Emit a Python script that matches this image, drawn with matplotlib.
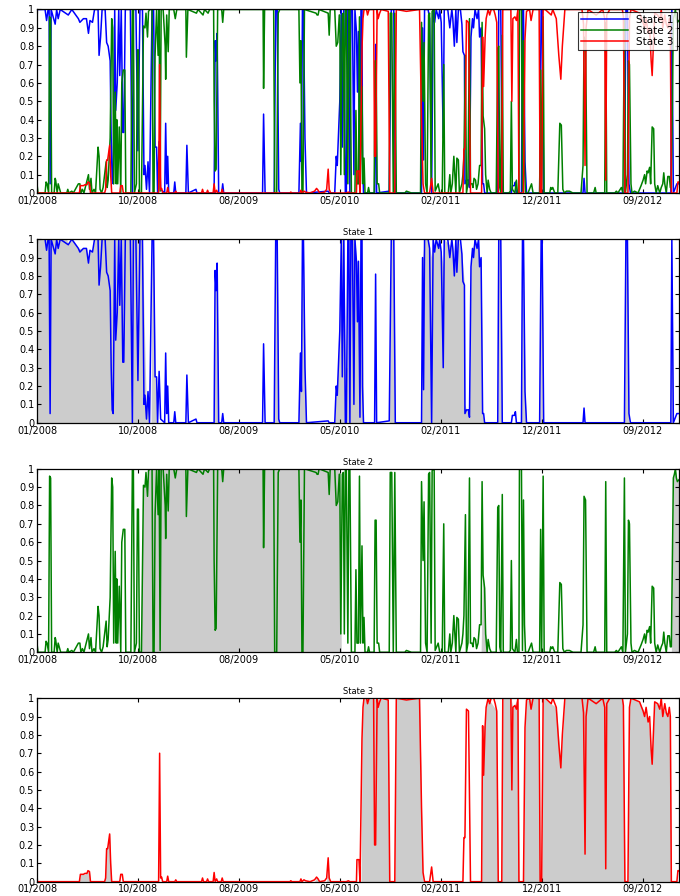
import numpy as np
import matplotlib; matplotlib.use("Agg")
import matplotlib.pyplot as plt

BLUE = "#0000ff"; GREEN = "#008000"; RED = "#ff0000"; FILL = "#cccccc"

# x axis is the observation index (daily data), ticks every 200 obs
tick_pos = [1, 201, 401, 601, 801, 1001, 1201]
tick_lab = ["01/2008", "10/2008", "08/2009", "05/2010", "02/2011", "12/2011", "09/2012"]

# state 1 probability (obs, prob)
s1 = [(1,1),(17,1),(20,.94),(23,1),(25,1),(27,.05),(29,1),(37,.92),(40,1),(43,.95),(47,1),(63,.97),(70,1),
      (83,.95),(86,.93),(93,.95),(99,.95),(103,.87),(106,.94),(111,.93),(115,1),(122,1),(124,.75),(127,.85),
      (130,1),(136,1),(139,.82),(142,.8),(146,.72),(148,.3),(150,.07),(152,.05),(155,1),(157,.45),(160,.6),
      (163,1),(165,.64),(168,1),(171,.33),(173,.33),(176,1),(186,1),(190,0),(192,1),(197,1),(201,.23),(205,1),
      (210,1),(213,.1),(215,.15),(218,.02),(221,.17),(224,0),(229,1),(232,1),(235,.25),(238,.25),(240,0),
      (243,.28),(246,.02),(254,0),(256,.38),(258,.05),(260,.2),(262,0),(272,0),(274,.06),(276,0),(296,0),
      (298,.26),(301,0),(316,.02),(318,0),(352,0),(354,.83),(356,.72),(358,.87),(361,0),(367,0),(369,.05),
      (371,0),(448,0),(450,.43),(453,0),(471,0),(474,1),(477,1),(480,.02),(482,0),(520,0),(523,.38),(525,.17),
      (527,1),(529,1),(532,.3),(535,0),(578,.01),(580,0),(591,0),(594,.2),(596,.15),
      (601,.5),(604,1),(606,.25),(609,1),(612,0),(614,0),(617,1),(619,1),(621,0),(623,1),(626,1),(629,.1),
      (631,1),(634,.88),(636,.55),(638,.88),(641,.03),(643,1),(645,1),(646,.2),(648,0),(670,0),(672,.81),
      (674,0),(699,.01),(703,1),(708,1),(711,0),(763,0),(765,.9),(767,.18),(769,1),(776,1),(779,.95),(783,0),
      (786,1),(789,.93),(792,1),(797,.95),(799,1),(802,.93),(806,.3),(808,1),(815,1),(819,.9),(823,1),
      (825,.95),(828,.8),(831,1),(833,.82),(836,1),(840,1),(843,.92),(845,.77),(848,.75),(849,.05),(852,.07),
      (856,.07),(858,.03),(861,.85),(864,.95),(866,.9),(869,1),(873,.95),(876,1),(878,.85),(881,.9),(884,.05),
      (886,.05),(888,0),(914,0),(916,1),(920,1),(923,0),(941,0),(943,.04),(947,.04),(949,.06),(951,0),(961,0),
      (963,1),(965,1),(968,.17),(971,0),(997,0),(1000,1),(1002,1),(1005,0),(1083,0),(1085,.08),(1087,0),
      (1165,0),(1168,1),(1171,1),(1174,.05),(1177,0),(1257,0),(1259,1),(1262,0),(1269,.05),(1273,.05)]

# state 2 probability
s2 = [(1,.05),(3,0),(17,0),(19,.06),(21,.05),(24,0),(26,.96),(28,.95),(30,0),(35,0),(37,.08),(38,.07),(41,0),
      (43,.05),(45,.03),(48,0),(60,0),(62,.02),(64,0),(70,.01),(73,0),(83,.05),(86,.05),(88,0),(91,.02),(94,0),
      (103,.1),(105,.02),(108,.08),(110,0),(114,.02),(117,0),(122,.25),(124,.2),(126,.02),(129,0),(132,.03),
      (138,.17),(140,.03),(142,.07),(146,.3),(149,.95),(151,.9),(153,.05),(156,.55),(158,.05),(159,.4),
      (161,.05),(164,.36),(167,0),(169,.6),(172,.67),(175,.67),(177,0),(187,0),(190,1),(192,1),(194,0),
      (198,.05),(200,.78),(202,.78),(204,0),(208,0),(212,.91),(215,.9),(217,.98),(220,.85),(222,.99),(225,1),
      (229,1),(231,0),(233,0),(235,.75),(238,1),(241,.75),(243,1),(245,.01),(247,1),(251,1),(255,.8),
      (256,.62),(258,.97),(261,.77),(263,1),(272,1),(275,.95),(278,1),(296,1),(297,.74),(300,1),(317,.98),
      (320,1),(330,.97),(333,1),(340,.98),(343,1),(351,1),(352,.5),(354,.12),(356,.13),(359,1),(367,1),
      (369,.93),(371,1),(449,1),(450,.57),(452,1),(470,1),(472,0),(476,0),(479,.98),(482,1),(520,1),(522,.6),
      (524,.83),(526,0),(528,0),(531,1),(554,.98),(556,.97),(558,.97),(560,1),(578,.98),(580,.86),(582,1),
      (591,1),(594,.8),(597,.82),(600,.97),
      (601,.97),(603,.1),(606,.97),(608,.98),(610,.1),(612,1),(614,1),(617,.05),(619,1),(621,1),(624,0),
      (631,0),(633,.45),(635,.05),(638,.05),(640,.96),(642,.05),(645,.58),(647,.05),(649,.19),(651,0),(656,0),
      (658,.03),(660,0),(669,0),(671,.72),(673,.72),(675,.05),(678,.05),(680,0),(699,0),(701,.98),(704,.98),
      (707,0),(710,.98),(713,0),(730,0),(733,.01),(743,0),(761,0),(763,.93),(766,.5),(768,.82),(771,.05),
      (774,0),(777,.97),(779,.98),(782,.05),(784,.99),(788,1),(790,.01),(796,.05),(799,0),(804,0),(807,.7),
      (809,0),(816,0),(819,.1),(821,0),(824,.05),(827,.2),(829,.1),(831,0),(833,.19),(836,.18),(838,0),
      (843,.05),(845,.1),(847,.2),(850,.75),(852,0),(855,.05),(858,.95),(860,.05),(863,.05),(865,.03),
      (867,.08),(870,.07),(872,.02),(875,.05),(878,.15),(881,.15),(883,.93),(885,.42),(888,.35),(890,.1),
      (893,0),(895,.07),(898,.02),(901,0),(911,0),(914,.79),(916,.8),(918,.03),(920,0),(923,.86),(925,0),
      (936,0),(939,.01),(941,.5),(943,.02),(948,0),(951,.07),(953,0),(956,0),(957,1),(961,1),(963,.01),
      (965,.83),(967,.15),(969,0),(974,0),(981,.05),(984,0),(997,0),(999,.67),(1001,0),(1004,.96),(1006,0),
      (1017,0),(1019,.03),(1021,.02),(1023,.03),(1027,0),(1033,0),(1037,.38),(1040,.37),(1043,.02),(1046,0),
      (1050,.01),(1056,.01),(1063,0),(1079,0),(1083,.15),(1085,.85),(1088,.83),(1091,0),(1104,0),(1107,.03),
      (1109,0),(1126,0),(1128,.93),(1130,0),(1146,0),(1149,.01),(1152,0),(1159,.03),(1162,0),(1165,.95),
      (1167,0),(1171,.1),(1173,.72),(1175,.7),(1178,.05),(1180,0),(1185,.01),(1192,0),(1195,.02),(1198,.04),
      (1202,.07),(1205,.1),(1207,.05),(1210,.12),(1212,.11),(1215,.14),(1217,.05),(1220,.36),(1223,.35),
      (1225,.05),(1228,0),(1231,.04),(1235,0),(1238,.03),(1241,.05),(1243,.11),(1245,.05),(1248,0),(1251,.09),
      (1254,.09),(1256,.03),(1258,.03),(1262,.95),(1264,.97),(1266,1),(1268,.95),(1270,.93),(1273,.94)]

# state 3 probability
s3 = [(1,0),(85,0),(87,.04),(93,.04),(96,.045),(100,.045),(102,.06),(105,.055),(107,0),(135,0),(137,.02),
      (139,.18),(141,.18),(143,.22),(145,.26),(147,.1),(149,0),(165,0),(167,.04),(170,.04),(172,0),(242,0),
      (244,.7),(246,.02),(248,.025),(250,0),(258,0),(260,.03),(262,0),(274,0),(276,.01),(278,0),(327,0),
      (329,.02),(331,0),(337,0),(339,.015),(341,0),(350,0),(352,.05),(354,0),(357,.015),(359,0),(366,0),
      (368,.02),(370,0),(502,0),(504,.005),(506,0),(522,0),(524,.015),(526,0),(530,.01),(533,.005),(542,0),
      (551,.01),(555,.025),(558,.015),(561,0),(571,.005),(575,.02),(578,.13),(580,.02),(583,0),
      (601,0),(614,0),(618,.005),(621,0),(634,0),(635,.12),(639,.12),(641,0),(645,.78),(647,.95),(649,1),
      (654,1),(656,.97),(659,1),(668,1),(670,.2),(672,.2),(675,1),(677,.95),(680,.98),(683,1),(697,.99),
      (700,0),(710,0),(713,1),(733,.99),(759,1),(763,.4),(766,.05),(769,0),(779,0),(783,.08),(786,0),(845,0),
      (847,.24),(849,.24),(852,.94),(856,.93),(860,0),(882,0),(884,.85),(886,.58),(889,.85),(891,.95),
      (895,1),(898,.97),(901,1),(906,1),(909,.97),(912,.93),(915,0),(922,0),(924,1),(940,1),(942,.5),
      (944,.95),(948,.96),(951,.94),(954,1),(956,0),(965,0),(968,.84),(971,.99),(977,1),(980,.94),(984,1),
      (996,1),(998,0),(1001,0),(1004,1),(1008,1),(1020,.97),(1023,1),(1030,.95),(1035,.75),(1039,.62),
      (1042,.8),(1047,1),(1063,1),(1081,1),(1084,.92),(1087,.15),(1089,.9),(1093,1),(1109,.97),(1122,1),
      (1126,.95),(1128,.07),(1130,.97),(1136,1),(1161,1),(1163,.96),(1166,0),(1172,0),(1175,.95),(1178,1),
      (1195,.98),(1202,.93),(1205,.9),(1208,.95),(1212,.87),(1215,.9),(1218,.72),(1220,.64),(1223,.85),
      (1225,.98),(1231,.97),(1235,.94),(1238,1),(1241,.9),(1245,.97),(1248,.92),(1251,.9),(1254,.95),
      (1256,.9),(1258,0),(1269,0),(1271,.06),(1273,.06)]

# grey shaded (smoothed) probabilities
f1 = [(1,1),(60,1),(63,.97),(70,1),(83,.95),(99,.95),(103,.87),(106,.94),(111,.93),(115,1),(210,1),(213,.6),
      (218,.05),(221,.15),(224,0),(227,0),(229,1),(232,1),(235,.25),(238,.2),(240,0),(352,0),(354,.8),
      (358,.85),(361,0),(471,0),(474,1),(477,1),(480,0),(520,0),(523,.35),(527,1),(529,1),(532,.3),(535,0),
      (591,0),(594,.2),(598,.3),(601,.6),(604,1),(609,1),(612,.3),(615,.3),(617,1),(631,1),(634,.88),
      (638,.88),(641,.5),(643,1),(645,1),(648,0),(699,0),(703,1),(708,1),(711,0),(763,0),(765,.9),(769,1),
      (776,1),(779,.95),(783,.9),(786,1),(789,.93),(792,1),(802,.93),(806,.85),(808,1),(825,.95),(828,.85),
      (831,1),(836,1),(843,.92),(848,.75),(849,.1),(852,.07),(856,.07),(858,.05),(861,.85),(864,.95),(869,1),
      (873,.95),(876,1),(878,.88),(881,.9),(884,.05),(888,0),(914,0),(916,1),(920,1),(923,0),(961,0),(963,1),
      (965,1),(968,.17),(971,0),(997,0),(1000,1),(1002,1),(1005,0),(1165,0),(1168,1),(1171,1),(1174,0),
      (1257,0),(1259,1),(1262,0),(1273,0)]
f2 = [(1,0),(206,0),(212,.9),(215,.9),(217,.98),(220,.9),(222,1),(598,1),(601,.97),(604,0),(881,0),(883,.3),
      (885,.42),(888,.35),(890,.1),(893,0),(1258,0),(1262,.95),(1264,.97),(1266,1),(1268,.95),(1270,.93),
      (1273,.94)]
f3 = [(1,0),(85,0),(87,.04),(93,.04),(100,.045),(102,.06),(105,.055),(107,0),(135,0),(139,.18),(143,.22),
      (145,.26),(147,.1),(149,0),(551,0),(555,.025),(561,0),(575,0),(578,.13),(580,.02),(583,0),(643,0),
      (645,.78),(647,.95),(649,1),(697,.99),(700,0),(710,0),(713,1),(759,1),(763,.4),(766,0),(882,0),
      (884,.85),(889,.85),(891,.95),(895,1),(912,.93),(915,0),(922,0),(924,1),(940,1),(944,.95),(954,1),
      (956,0),(965,0),(968,.84),(971,.99),(996,1),(998,0),(1001,0),(1004,1),(1030,.95),(1039,.65),(1047,1),
      (1161,1),(1163,.96),(1166,0),(1172,0),(1175,.95),(1178,1),(1195,.98),(1212,.88),(1220,.66),(1225,.98),
      (1256,.9),(1258,0),(1273,0)]

XMAX = 1273
series = [np.array(s, float).T for s in (s1, s2, s3)]
fills = [np.array(f, float).T for f in (f1, f2, f3)]
cols = [BLUE, GREEN, RED]
names = ["State 1", "State 2", "State 3"]

def style(ax):
    ax.set_xlim(1, XMAX); ax.set_ylim(0, 1)
    ax.set_xticks(tick_pos); ax.set_xticklabels(tick_lab)
    ax.set_yticks(np.arange(0, 1.01, 0.1))
    ax.set_yticklabels(["0"] + ["%.1f" % v for v in np.arange(0.1, 0.95, 0.1)] + ["1"])
    ax.tick_params(direction="in", top=True, right=True, length=3, width=0.8, labelsize=7, pad=2)
    for sp in ax.spines.values(): sp.set_linewidth(0.9)

fig = plt.figure(figsize=(6.8, 8.96), dpi=100)
L, W, H = 0.0544, 0.944, 0.2048
bottoms = [0.7846, 0.5282, 0.272, 0.016]

ax = fig.add_axes([L, bottoms[0], W, H])
for (t, p), c, n in zip(series, cols, names):
    ax.plot(t, p, color=c, lw=1.1, label=n)
style(ax)
leg = ax.legend(loc="upper right", fontsize=7.5, frameon=True, fancybox=False, borderpad=0.3,
                labelspacing=0.1, handlelength=4.5, borderaxespad=0.2)
leg.get_frame().set_edgecolor("black"); leg.get_frame().set_linewidth(0.8)

for i in range(3):
    ax = fig.add_axes([L, bottoms[i + 1], W, H])
    ft, fp = fills[i]
    ax.fill_between(ft, 0, fp, color=FILL, lw=0)
    t, p = series[i]
    ax.plot(t, p, color=cols[i], lw=1.1)
    style(ax)
    ax.set_title(names[i], fontsize=6, pad=3)

fig.savefig("out.png", dpi=100)
